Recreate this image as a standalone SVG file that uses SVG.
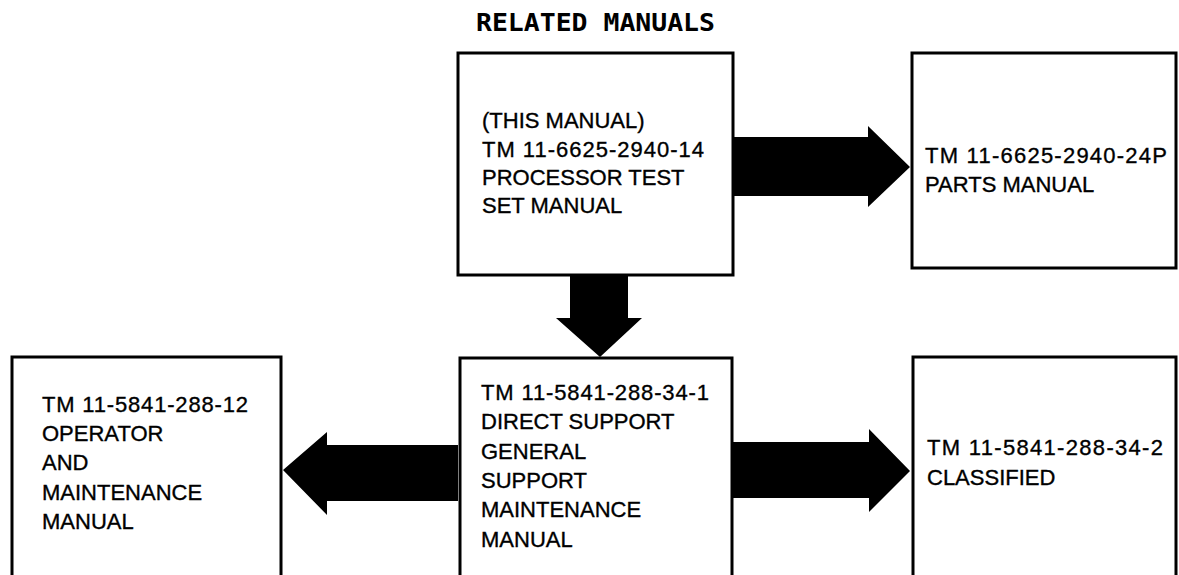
<svg xmlns="http://www.w3.org/2000/svg" width="1179" height="575" viewBox="0 0 1179 575">
<style>
.box{fill:#fff;stroke:#000;stroke-width:3}
.t{font-family:"Liberation Sans",Arial,sans-serif;font-size:22px;fill:#000;stroke:#000;stroke-width:0.35}
.title{font-family:"DejaVu Sans Mono","Liberation Mono",monospace;font-size:25px;font-weight:bold;fill:#000}
.arrow{fill:#000;stroke:none}
</style>
<rect width="1179" height="575" fill="#fff"/>
<text class="title" x="476" y="31" textLength="239" lengthAdjust="spacingAndGlyphs">RELATED MANUALS</text>
<g id="connectors">
<polygon class="arrow" points="570,276 628,276 628,318 642,318 600,357 556,318 570,318"/>
<polygon class="arrow" points="733,137 868,137 868,126 910,167 868,207 868,196 733,196"/>
<polygon class="arrow" points="458,445 327,445 327,432 283,470 327,515 327,501 458,501"/>
<polygon class="arrow" points="732,442 869,442 869,429 910,471 869,512 869,498 732,498"/>
</g>
<g id="this-manual">
<rect class="box" x="458" y="53" width="275" height="222"/>
<text class="t" x="482" y="128">(THIS MANUAL)</text>
<text class="t" x="482" y="156.5" textLength="222" lengthAdjust="spacing">TM 11-6625-2940-14</text>
<text class="t" x="482" y="184.5">PROCESSOR TEST</text>
<text class="t" x="482" y="213">SET MANUAL</text>
</g>
<g id="parts-manual">
<rect class="box" x="912" y="53" width="264" height="215"/>
<text class="t" x="925" y="163" textLength="242" lengthAdjust="spacing">TM 11-6625-2940-24P</text>
<text class="t" x="925" y="192">PARTS MANUAL</text>
</g>
<g id="operator-manual">
<rect class="box" x="12" y="357" width="269" height="230"/>
<text class="t" x="42" y="412" textLength="206" lengthAdjust="spacing">TM 11-5841-288-12</text>
<text class="t" x="42" y="441">OPERATOR</text>
<text class="t" x="42" y="470">AND</text>
<text class="t" x="42" y="500">MAINTENANCE</text>
<text class="t" x="42" y="529">MANUAL</text>
</g>
<g id="ds-gs-manual">
<rect class="box" x="460" y="358" width="272" height="230"/>
<text class="t" x="481" y="400" textLength="228" lengthAdjust="spacing">TM 11-5841-288-34-1</text>
<text class="t" x="481" y="429">DIRECT SUPPORT</text>
<text class="t" x="481" y="459">GENERAL</text>
<text class="t" x="481" y="488">SUPPORT</text>
<text class="t" x="481" y="517">MAINTENANCE</text>
<text class="t" x="481" y="547">MANUAL</text>
</g>
<g id="classified-manual">
<rect class="box" x="913" y="357" width="263" height="230"/>
<text class="t" x="927" y="455" textLength="236" lengthAdjust="spacing">TM 11-5841-288-34-2</text>
<text class="t" x="927" y="485">CLASSIFIED</text>
</g>
</svg>
